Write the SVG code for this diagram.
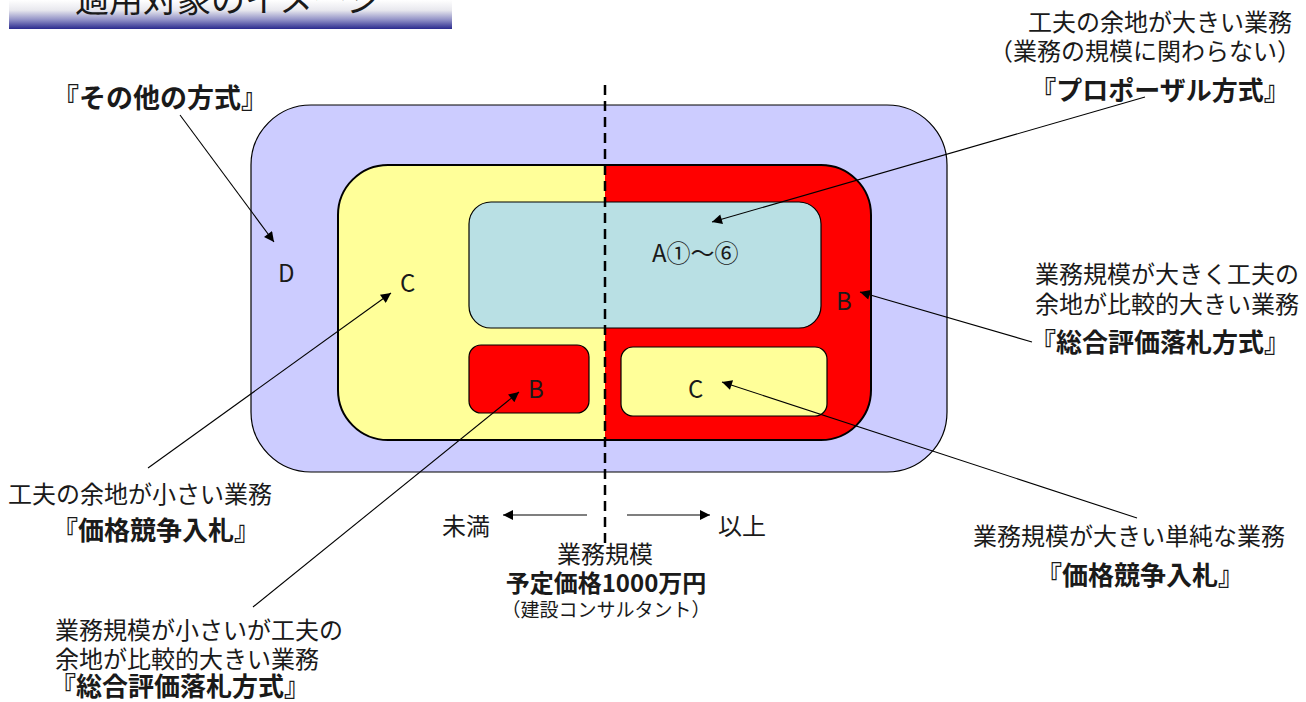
<svg xmlns="http://www.w3.org/2000/svg" width="1306" height="702" viewBox="0 0 1306 702">
<style>
text{font-family:"Noto Sans CJK JP","Noto Sans",sans-serif;fill:#1a1a1a}
.n{font-size:24px}
.b{font-size:26px;font-weight:bold}
.l{font-size:24px}
.c{stroke:#000;stroke-width:1.1;fill:none;marker-end:url(#ah)}
.box{stroke:#000;stroke-width:1.2}
</style>
<defs>
<linearGradient id="hg" x1="0" y1="0" x2="0" y2="1">
<stop offset="0" stop-color="#ffffff"/>
<stop offset="0.35" stop-color="#e8e8ee"/>
<stop offset="0.7" stop-color="#8c8cc4"/>
<stop offset="1" stop-color="#2a2a8e"/>
</linearGradient>
<clipPath id="ic"><rect x="338" y="165" width="533" height="275" rx="50" ry="50"/></clipPath>
<marker id="ah" viewBox="0 0 10 10" refX="10" refY="5" markerWidth="12" markerHeight="10" markerUnits="userSpaceOnUse" orient="auto">
<path d="M0,0 L10,5 L0,10 z" fill="#000"/>
</marker>
</defs>
<g id="header">
<rect x="9" y="0" width="443" height="29" fill="url(#hg)"/>
<text x="75" y="12" style="font-size:34px">適用対象のイメージ</text>
</g>
<g id="outer">
<rect class="box" x="251" y="105" width="696" height="367" rx="60" ry="60" fill="#ccccff"/>
<text class="l" x="278" y="282">D</text>
</g>
<g id="inner">
<g clip-path="url(#ic)">
<rect x="338" y="165" width="267" height="275" fill="#ffff99"/>
<rect x="605" y="165" width="266" height="275" fill="#ff0000"/>
</g>
<rect x="338" y="165" width="533" height="275" rx="50" ry="50" fill="none" stroke="#000" stroke-width="2"/>
<text class="l" x="400" y="292">C</text>
<text class="l" x="836" y="310">B</text>
</g>
<g id="boxA">
<rect class="box" x="469" y="202" width="352" height="126" rx="22" ry="22" fill="#b9e0e4"/>
<text class="l" x="652" y="262">A①〜⑥</text>
</g>
<g id="boxB">
<rect class="box" x="469" y="345" width="120" height="68" rx="12" ry="12" fill="#ff0000"/>
<text class="l" x="528" y="398">B</text>
</g>
<g id="boxC">
<rect class="box" x="621" y="347" width="206" height="69" rx="12" ry="12" fill="#ffff99"/>
<text class="l" x="688" y="398">C</text>
</g>
<g id="divider">
<line x1="605" y1="85" x2="605" y2="543" stroke="#000" stroke-width="2.5" stroke-dasharray="10 6"/>
</g>
<g id="connectors">
<line class="c" x1="180" y1="115" x2="274" y2="242"/>
<line class="c" x1="1145" y1="97" x2="712" y2="222"/>
<line class="c" x1="148" y1="468" x2="391" y2="293"/>
<line class="c" x1="253" y1="607" x2="519" y2="392"/>
<line class="c" x1="1032" y1="342" x2="860" y2="292"/>
<line class="c" x1="1137" y1="518" x2="722" y2="382"/>
<line class="c" x1="587" y1="515" x2="503" y2="515"/>
<line class="c" x1="627" y1="515" x2="710" y2="515"/>
</g>
<g id="label-other">
<text class="b" x="52" y="108" style="font-size:27px">『その他の方式』</text>
</g>
<g id="label-proposal">
<text class="n" x="1160" y="31" text-anchor="middle">工夫の余地が大きい業務</text>
<text class="n" x="1145" y="60" text-anchor="middle">（業務の規模に関わらない）</text>
<text class="b" x="1160" y="100" text-anchor="middle">『プロポーザル方式』</text>
</g>
<g id="label-left-price">
<text class="n" x="8" y="503">工夫の余地が小さい業務</text>
<text class="b" x="52" y="540">『価格競争入札』</text>
</g>
<g id="label-left-sogo">
<text class="n" x="55" y="639">業務規模が小さいが工夫の</text>
<text class="n" x="55" y="668">余地が比較的大きい業務</text>
<text class="b" x="50" y="696">『総合評価落札方式』</text>
</g>
<g id="label-right-sogo">
<text class="n" x="1035" y="283">業務規模が大きく工夫の</text>
<text class="n" x="1035" y="313">余地が比較的大きい業務</text>
<text class="b" x="1030" y="352">『総合評価落札方式』</text>
</g>
<g id="label-right-price">
<text class="n" x="973" y="545">業務規模が大きい単純な業務</text>
<text class="b" x="1036" y="585">『価格競争入札』</text>
</g>
<g id="label-scale">
<text class="n" x="442" y="535">未満</text>
<text class="n" x="718" y="535">以上</text>
<text class="n" x="605" y="563" text-anchor="middle">業務規模</text>
<text x="606" y="592" text-anchor="middle" style="font-size:24px;font-weight:bold">予定価格1000万円</text>
<text x="606" y="617" text-anchor="middle" style="font-size:19px">（建設コンサルタント）</text>
</g>
</svg>
